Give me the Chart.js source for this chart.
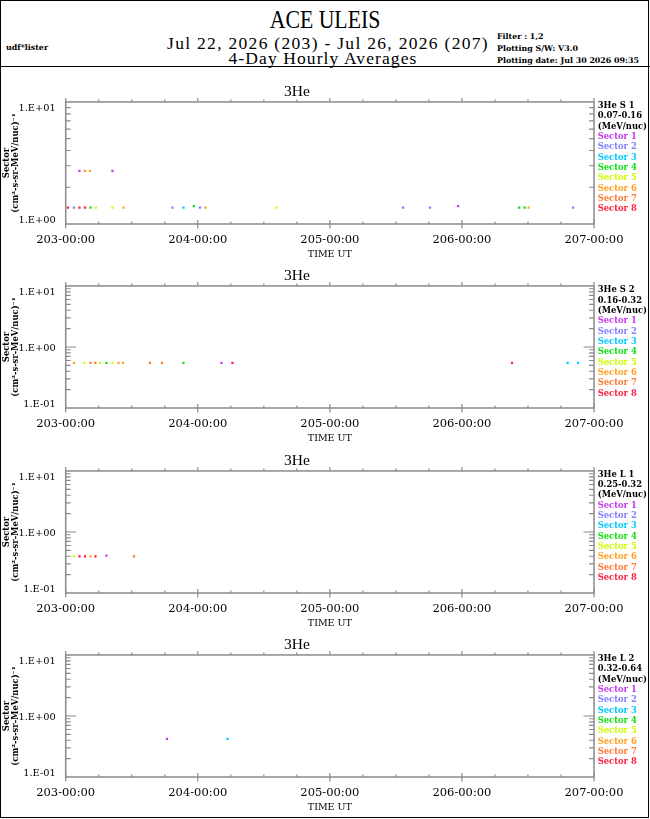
<!DOCTYPE html>
<html>
<head>
<meta charset="utf-8">
<script src="https://cdn.jsdelivr.net/npm/chart.js@4.4.1/dist/chart.umd.min.js"></script>
<style>
html,body{margin:0;padding:0;background:#fff;}
#page{position:relative;width:650px;height:819px;overflow:hidden;background:#fff;}
#border{position:absolute;left:0;top:0;width:647px;height:816px;border:1.5px solid #000;}
#sep{position:absolute;left:0;top:65.5px;width:650px;height:1.5px;background:#000;}
.t{position:absolute;white-space:nowrap;color:#000;}
.c{text-align:center;width:600px;}
.hdr{font-family:"Liberation Serif",serif;}
.sm{font-family:"DejaVu Serif",serif;font-weight:bold;font-size:7.9px;height:10px;line-height:10px;}
.lg{font-family:"DejaVu Serif",serif;font-weight:bold;font-size:8.4px;height:10px;line-height:10px;}
.panel{position:absolute;left:0;width:650px;height:180px;}
</style>
</head>
<body>
<div id="page">
  <div id="border"></div>
  <div id="sep"></div>
  <div class="t c hdr" style="left:25px;top:5px;height:30px;line-height:30px;font-size:25px;transform:scaleX(0.87);">ACE ULEIS</div>
  <div class="t c hdr" style="left:28px;top:33px;height:20px;line-height:20px;font-size:17.5px;letter-spacing:1.3px;">Jul 22, 2026 (203) - Jul 26, 2026 (207)</div>
  <div class="t c hdr" style="left:23px;top:47.5px;height:20px;line-height:20px;font-size:17.5px;letter-spacing:1.1px;">4-Day Hourly Averages</div>
  <div class="t sm" style="left:6px;top:43px;">udf*lister</div>
  <div class="t sm" style="left:497px;top:32px;">Filter : 1,2</div>
  <div class="t sm" style="left:497px;top:44px;">Plotting S/W: V3.0</div>
  <div class="t sm" style="left:497px;top:56px;">Plotting date: Jul 30 2026 09:35</div>
  <div id="panels"></div>
</div>
<script>
// ---------------- data ----------------
const SECTOR_NAMES = ['Sector 1','Sector 2','Sector 3','Sector 4','Sector 5','Sector 6','Sector 7','Sector 8'];
const SECTOR_COLORS = ['#c23bea','#8080ff','#00c8ff','#10e010','#ccff00','#ffa020','#ff7a30','#ff2040'];
const PANEL_TITLE = '3He';
const CHANNEL_NAMES = ['3He S 1','3He S 2','3He L 1','3He L 2'];
const ENERGY_RANGES = ['0.07-0.16','0.16-0.32','0.25-0.32','0.32-0.64'];
const ENERGY_UNIT = '(MeV/nuc)';
const Y_MIN = [1, 0.1, 0.1, 0.1];
const Y_MAX = [10, 10, 10, 10];
const X_TICK_LABELS = ['203-00:00','204-00:00','205-00:00','206-00:00','207-00:00'];
const X_TITLE = 'TIME UT';
const Y_TITLE = ['Sector','(cm\u00b2-s-sr-MeV/nuc)\u207b\u00b9'];

// Panel 1 : 3He S 1  (hours since 203-00:00, flux, sector number)
const s1Hours  = [0.4, 1.5, 2.5, 3.5, 4.5, 5.5, 8.5, 10.5, 19.4, 21.4, 23.3, 24.4, 25.4, 38.3, 61.3, 66.2, 71.3, 82.4, 83.4, 84.1, 92.2, 2.5, 3.5, 4.4, 8.5];
const s1Flux   = [1.36,1.36,1.36,1.36,1.36,1.36,1.36,1.36,1.36,1.36,1.40,1.36,1.36,1.36,1.36,1.36,1.40,1.36,1.36,1.36,1.36,2.72,2.72,2.72,2.72];
const s1Sector = [8, 2, 8, 8, 4, 5, 5, 6, 2, 3, 4, 2, 6, 5, 2, 2, 1, 4, 4, 6, 2, 1, 6, 6, 1];
// Panel 2 : 3He S 2
const s2Hours  = [1.5, 3.4, 4.5, 5.4, 6.2, 7.4, 8.5, 9.6, 10.4, 15.3, 17.5, 21.4, 28.3, 30.3, 81.1, 91.2, 93.1];
const s2Flux   = [0.55,0.55,0.55,0.55,0.55,0.55,0.55,0.55,0.55,0.55,0.55,0.55,0.55,0.55,0.55,0.55,0.55];
const s2Sector = [6, 5, 7, 7, 5, 4, 5, 6, 6, 7, 7, 4, 1, 8, 8, 3, 3];
// Panel 3 : 3He L 1
const l1Hours  = [1.5, 2.5, 3.5, 4.5, 5.4, 7.4, 12.4];
const l1Flux   = [0.40,0.40,0.40,0.40,0.40,0.41,0.40];
const l1Sector = [5, 8, 8, 6, 8, 1, 7];
// Panel 4 : 3He L 2
const l2Hours  = [18.4, 29.4];
const l2Flux   = [0.42, 0.42];
const l2Sector = [1, 3];

// ---------------- layout constants ----------------
const PANEL_TOPS = [102, 286.3, 470.7, 655];
const AXIS_COLOR = '#8a8a8a';

const framePlugin = {
  id: 'frame',
  afterDraw(chart) {
    const {ctx, chartArea: a} = chart;
    const x = chart.scales.x, y = chart.scales.y;
    ctx.save();
    ctx.strokeStyle = AXIS_COLOR;
    ctx.lineWidth = 1.5;
    ctx.strokeRect(a.left, a.top, a.right - a.left, a.bottom - a.top);
    ctx.beginPath();
    ctx.lineWidth = 1.2;
    y.ticks.forEach(t => {
      const v = t.value;
      const e = Math.floor(Math.log10(v) + 1e-9);
      const m = v / Math.pow(10, e);
      if (Math.abs(m - Math.round(m)) > 1e-6) return;
      if (v <= y.min * 1.0001 || v >= y.max * 0.9999) return;
      const py = y.getPixelForValue(v);
      const len = Math.abs(m - 1) < 1e-6 ? 10.5 : 5;
      ctx.moveTo(a.left, py); ctx.lineTo(a.left + len, py);
      ctx.moveTo(a.right, py); ctx.lineTo(a.right - len, py);
    });
    x.ticks.forEach(t => {
      const v = t.value;
      const px = x.getPixelForValue(v);
      const major = Math.abs(v % 24) < 1e-6;
      ctx.moveTo(px, a.top); ctx.lineTo(px, a.top - (major ? 4 : 2.5));
      if (major) { ctx.moveTo(px, a.bottom + 4.5); ctx.lineTo(px, a.bottom - 4); }
      else { ctx.moveTo(px, a.bottom); ctx.lineTo(px, a.bottom - 2.5); }
    });
    ctx.stroke();
    ctx.restore();
  }
};

function buildDatasets(hours, flux, sector) {
  return SECTOR_NAMES.map((name, i) => {
    const pts = [];
    hours.forEach((h, k) => { if (sector[k] === i + 1) pts.push({x: h, y: flux[k]}); });
    return {
      label: name,
      data: pts,
      showLine: false,
      pointStyle: 'rect',
      pointRadius: 1.6,
      pointBorderWidth: 0,
      pointBackgroundColor: SECTOR_COLORS[i],
      backgroundColor: SECTOR_COLORS[i],
      borderColor: SECTOR_COLORS[i]
    };
  });
}

const PANEL_DATA = [
  [s1Hours, s1Flux, s1Sector],
  [s2Hours, s2Flux, s2Sector],
  [l1Hours, l1Flux, l1Sector],
  [l2Hours, l2Flux, l2Sector]
];

const panelsDiv = document.getElementById('panels');
const page = document.getElementById('page');

PANEL_DATA.forEach((pd, p) => {
  const top = PANEL_TOPS[p];
  const wrap = document.createElement('div');
  wrap.className = 'panel';
  wrap.style.top = (top - 22) + 'px';
  const cv = document.createElement('canvas');
  cv.width = 650; cv.height = 180;
  cv.style.width = '650px'; cv.style.height = '180px';
  wrap.appendChild(cv);
  panelsDiv.appendChild(wrap);

  new Chart(cv, {
    type: 'scatter',
    data: { datasets: buildDatasets(pd[0], pd[1], pd[2]) },
    plugins: [framePlugin],
    options: {
      responsive: false,
      animation: false,
      devicePixelRatio: 1,
      layout: { padding: { top: 0, left: 0, right: 56, bottom: 0 } },
      plugins: {
        legend: { display: false },
        tooltip: { enabled: false },
        title: {
          display: true, text: PANEL_TITLE, color: '#000',
          font: { family: 'Liberation Serif', size: 15.5, weight: 'normal', lineHeight: 1.1 },
          padding: { top: 3.3, bottom: 1.6 }
        }
      },
      scales: {
        x: {
          type: 'linear', min: 0, max: 96,
          grid: { display: false }, border: { display: false },
          afterFit: s => { s.height = 36; },
          ticks: {
            stepSize: 6, autoSkip: false, maxRotation: 0, minRotation: 0,
            color: '#000', padding: 0.8,
            font: { family: 'DejaVu Serif', size: 11.5 },
            callback: v => (Math.abs(v % 24) < 1e-6 ? X_TICK_LABELS[Math.round(v / 24)] : '')
          },
          title: {
            display: true, text: X_TITLE, color: '#000',
            font: { family: 'DejaVu Serif', size: 9.5, lineHeight: 1.2 },
            padding: { top: 0, bottom: 0 }
          }
        },
        y: {
          type: 'logarithmic', min: Y_MIN[p], max: Y_MAX[p],
          grid: { display: false }, border: { display: false },
          afterFit: s => { s.width = 65.7; },
          ticks: {
            autoSkip: false, color: '#000', padding: 2, labelOffset: 1.5,
            font: { family: 'DejaVu Serif', size: 9.8, lineHeight: 1.05 },
            callback: function (v) {
              const lv = Math.log10(v);
              const e = Math.round(lv);
              if (Math.abs(lv - e) > 1e-6) return '';
              const s = '1.E' + (e < 0 ? '-' : '+') + String(Math.abs(e)).padStart(2, '0');
              if (Math.abs(v - Y_MAX[p]) < 1e-9 * Y_MAX[p]) return [' ', s];
              if (Math.abs(v - Y_MIN[p]) < 1e-9 * Y_MAX[p]) return [s, ' '];
              return s;
            }
          },
          title: {
            display: true, text: Y_TITLE, color: '#000',
            font: { family: 'DejaVu Serif', size: 8.4, weight: 'bold', lineHeight: 1.1 },
            padding: { top: 2.1, bottom: 0 }
          }
        }
      }
    }
  });

  // legend text block to the right of the panel
  const lines = [CHANNEL_NAMES[p], ENERGY_RANGES[p], ENERGY_UNIT].concat(SECTOR_NAMES);
  lines.forEach((txt, i) => {
    const d = document.createElement('div');
    d.className = 't lg';
    d.style.left = '597.7px';
    d.style.top = (top + 3 + i * 10.33 - 5) + 'px';
    d.style.color = i < 3 ? '#000' : SECTOR_COLORS[i - 3];
    d.textContent = txt;
    page.appendChild(d);
  });
});
</script>
</body>
</html>
